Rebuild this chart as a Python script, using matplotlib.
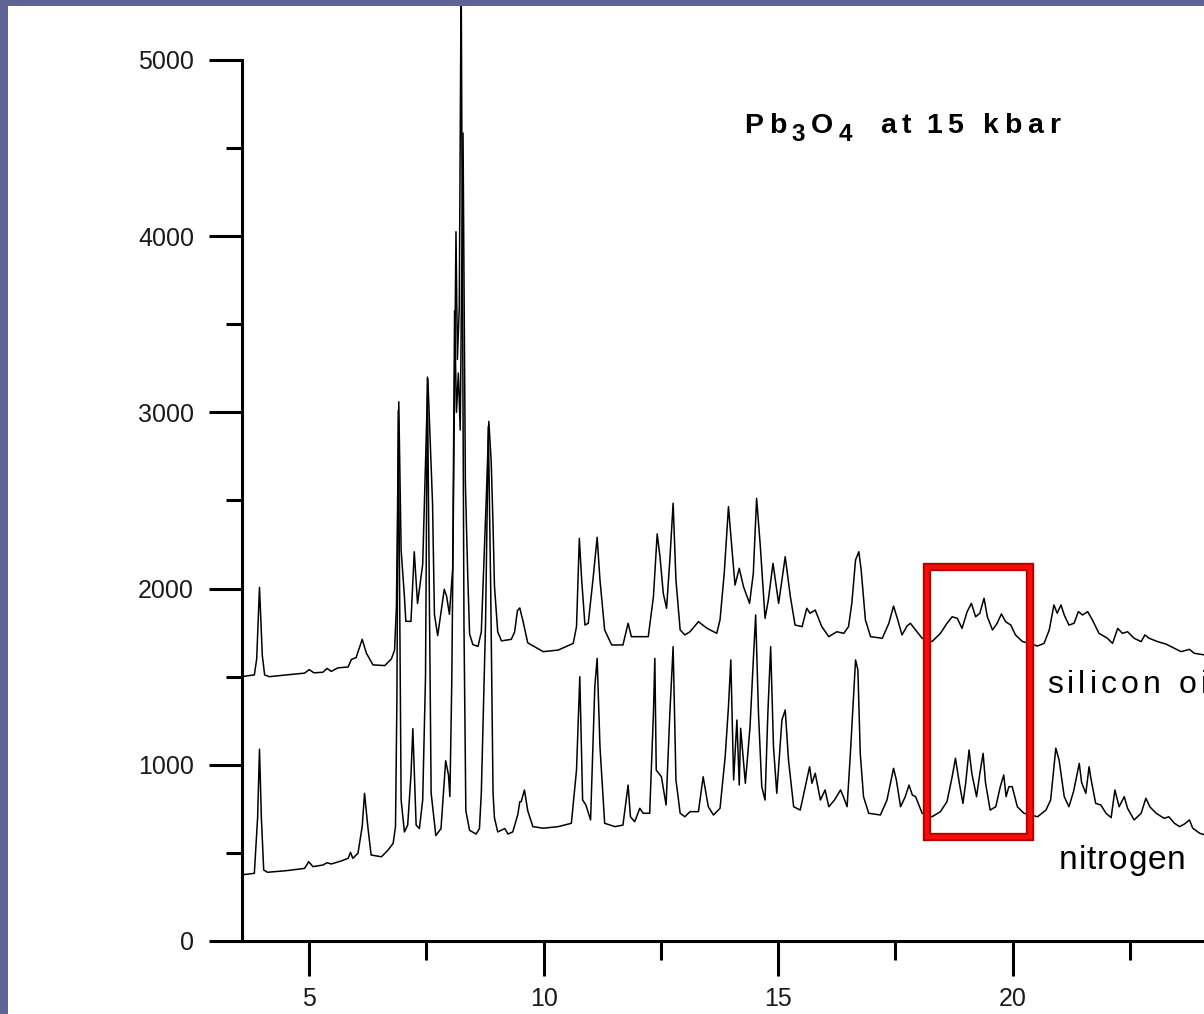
import matplotlib
matplotlib.use("Agg")
import matplotlib.pyplot as plt
from matplotlib.patches import Rectangle
from matplotlib.ticker import MultipleLocator

# diffraction patterns (2-theta, counts)
silicon_2theta = [3.55, 3.83, 3.88, 3.94, 4.00, 4.05, 4.15, 4.51, 4.90, 5.00, 5.10, 5.29, 5.38, 5.47,
                  5.61, 5.83, 5.90, 6.00, 6.13, 6.22, 6.36, 6.61, 6.75, 6.82, 6.86, 6.91, 6.96, 7.03,
                  7.06, 7.17, 7.24, 7.31, 7.42, 7.53, 7.63, 7.67, 7.74, 7.88, 7.93, 7.99, 8.06, 8.10,
                  8.14, 8.18, 8.22, 8.28, 8.33, 8.38, 8.42, 8.49, 8.60, 8.67, 8.78, 8.83, 8.88, 8.92,
                  8.95, 9.02, 9.10, 9.31, 9.38, 9.44, 9.49, 9.56, 9.66, 9.74, 9.99, 10.31, 10.63, 10.70,
                  10.76, 10.81, 10.88, 10.95, 11.05, 11.14, 11.20, 11.30, 11.45, 11.69, 11.80, 11.87,
                  12.23, 12.34, 12.42, 12.48, 12.55, 12.62, 12.69, 12.76, 12.82, 12.91, 13.01, 13.12,
                  13.30, 13.48, 13.69, 13.76, 13.85, 13.94, 14.01, 14.08, 14.17, 14.26, 14.39, 14.47,
                  14.54, 14.62, 14.72, 14.79, 14.89, 15.01, 15.15, 15.26, 15.36, 15.51, 15.61, 15.68,
                  15.79, 15.93, 16.08, 16.25, 16.40, 16.50, 16.57, 16.65, 16.72, 16.77, 16.86, 16.97,
                  17.22, 17.36, 17.46, 17.55, 17.64, 17.75, 17.82, 17.93, 18.07, 18.28, 18.46, 18.60,
                  18.71, 18.82, 18.92, 19.03, 19.12, 19.21, 19.30, 19.39, 19.46, 19.57, 19.67, 19.76,
                  19.85, 19.96, 20.06, 20.21, 20.35, 20.53, 20.67, 20.78, 20.88, 20.95, 21.03, 21.10,
                  21.20, 21.31, 21.40, 21.49, 21.60, 21.70, 21.84, 22.02, 22.13, 22.24, 22.34, 22.45,
                  22.59, 22.74, 22.82, 22.91, 23.09, 23.27, 23.45, 23.59, 23.77, 23.87, 24.10]
silicon_counts = [1500, 1510, 1600, 2007, 1620, 1510, 1500, 1510, 1520, 1540, 1522, 1525, 1547, 1530,
                  1550, 1555, 1598, 1608, 1712, 1633, 1567, 1563, 1600, 1650, 1900, 3060, 2219, 1956,
                  1814, 1814, 2209, 1915, 2138, 3192, 2482, 1854, 1733, 1996, 1956, 1854, 2117, 3577,
                  3000, 3223, 2900, 4585, 2600, 2077, 1742, 1682, 1672, 1754, 2543, 2949, 2726, 2361,
                  2016, 1754, 1703, 1712, 1754, 1875, 1890, 1814, 1692, 1680, 1642, 1651, 1689, 1784,
                  2285, 2049, 1793, 1803, 2049, 2291, 2049, 1765, 1680, 1680, 1803, 1727,
                  1727, 1954, 2310, 2181, 1973, 1888, 2162, 2484, 2049, 1765, 1737, 1755,
                  1812, 1775, 1746, 1822, 2087, 2465, 2238, 2020, 2115, 2011, 1916, 2087,
                  2512, 2238, 1831, 1935, 2143, 1916, 2181, 1954, 1793, 1784, 1888, 1860,
                  1878, 1784, 1727, 1755, 1746, 1784, 1916, 2162, 2209, 2105, 1822, 1727,
                  1718, 1803, 1901, 1822, 1737, 1788, 1803, 1765, 1718, 1699, 1746, 1803,
                  1840, 1831, 1774, 1869, 1916, 1840, 1860, 1945, 1840, 1765, 1803, 1856,
                  1812, 1793, 1737, 1699, 1689, 1674, 1689, 1765, 1907, 1860, 1907, 1850,
                  1793, 1803, 1869, 1850, 1869, 1822, 1746, 1718, 1689, 1774, 1746, 1755,
                  1718, 1699, 1737, 1718, 1699, 1685, 1661, 1642, 1655, 1633, 1623]

nitrogen_2theta = [3.55, 3.83, 3.90, 3.94, 3.98, 4.03, 4.11, 4.51, 4.90, 4.99, 5.08, 5.29, 5.38, 5.47,
                   5.68, 5.83, 5.88, 5.93, 6.04, 6.13, 6.18, 6.25, 6.32, 6.54, 6.68, 6.79, 6.84, 6.87,
                   6.90, 6.96, 7.03, 7.10, 7.17, 7.21, 7.28, 7.35, 7.42, 7.48, 7.52, 7.56, 7.60, 7.70,
                   7.81, 7.91, 7.97, 8.00, 8.04, 8.13, 8.16, 8.20, 8.24, 8.30, 8.34, 8.42, 8.56, 8.63,
                   8.67, 8.76, 8.82, 8.87, 8.92, 8.95, 9.02, 9.17, 9.24, 9.34, 9.45, 9.49, 9.52, 9.59,
                   9.66, 9.77, 9.99, 10.31, 10.59, 10.70, 10.77, 10.83, 10.90, 11.00, 11.09, 11.14,
                   11.20, 11.30, 11.52, 11.69, 11.80, 11.85, 11.94, 12.05, 12.12, 12.26, 12.34, 12.37,
                   12.40, 12.51, 12.61, 12.69, 12.76, 12.82, 12.91, 13.01, 13.12, 13.30, 13.40, 13.51,
                   13.62, 13.76, 13.87, 13.94, 13.99, 14.05, 14.12, 14.17, 14.20, 14.30, 14.40, 14.47,
                   14.52, 14.58, 14.65, 14.72, 14.78, 14.84, 14.90, 14.97, 15.08, 15.15, 15.22, 15.33,
                   15.47, 15.61, 15.67, 15.72, 15.79, 15.90, 16.00, 16.08, 16.20, 16.33, 16.39, 16.47,
                   16.54, 16.65, 16.70, 16.75, 16.82, 16.93, 17.18, 17.32, 17.46, 17.52, 17.61, 17.71,
                   17.79, 17.86, 17.93, 18.07, 18.28, 18.46, 18.60, 18.71, 18.78, 18.86, 18.94, 19.00,
                   19.07, 19.13, 19.23, 19.30, 19.37, 19.42, 19.52, 19.64, 19.74, 19.81, 19.86, 19.92,
                   19.99, 20.10, 20.24, 20.53, 20.71, 20.81, 20.92, 20.99, 21.10, 21.20, 21.30, 21.42,
                   21.47, 21.56, 21.63, 21.67, 21.77, 21.88, 21.99, 22.10, 22.18, 22.27, 22.38, 22.45,
                   22.59, 22.74, 22.84, 22.93, 23.06, 23.23, 23.33, 23.45, 23.56, 23.67, 23.77, 23.84,
                   23.99, 24.10]
nitrogen_counts = [375, 384, 700, 1088, 700, 403, 390, 399, 412, 450, 422, 431, 444, 437,
                   454, 469, 503, 469, 498, 650, 838, 649, 488, 478, 516, 554, 649, 1368,
                   3010, 800, 619, 658, 942, 1205, 658, 638, 800, 1500, 3200, 2000, 840, 598,
                   638, 1023, 942, 820, 1470, 4025, 3300, 3600, 5500, 1800, 739, 628, 607, 638,
                   840, 1800, 2920, 2000, 840, 699, 619, 638, 607, 619, 719, 790, 791, 857,
                   739, 649, 640, 649, 668, 970, 1500, 800, 772, 687, 1443, 1604,
                   1103, 668, 649, 658, 885, 705, 677, 753, 725, 725, 1292, 1604,
                   970, 932, 772, 1292, 1670, 914, 725, 705, 734, 734, 932, 762,
                   715, 753, 1046, 1330, 1595, 914, 1254, 885, 1207, 895, 1216, 1595,
                   1850, 1292, 876, 800, 1292, 1670, 1103, 838, 1254, 1311, 1027, 762,
                   743, 914, 989, 895, 952, 800, 857, 762, 800, 857, 819, 762,
                   1065, 1595, 1538, 1065, 819, 725, 715, 800, 980, 914, 762, 819,
                   885, 829, 819, 725, 705, 734, 791, 932, 1037, 900, 781, 900,
                   1084, 950, 819, 950, 1065, 900, 743, 762, 880, 942, 819, 876,
                   876, 762, 725, 705, 743, 800, 1094, 1027, 819, 762, 850, 1008,
                   900, 838, 989, 920, 781, 772, 725, 700, 857, 762, 819, 753,
                   687, 725, 810, 760, 725, 696, 705, 668, 649, 665, 687, 640,
                   611, 602]

x_major = [5, 10, 15, 20]
y_major = [0, 1000, 2000, 3000, 4000, 5000]
title_text = "Pb3O4 at 15 kbar"
label_silicon = "silicon oil"
label_nitrogen = "nitrogen"
box_2theta = (18.17, 20.36)
box_counts = (590, 2122)

FONT = "Liberation Sans"


def tracked_text(ax, x, y, text, size, track, weight="normal", subs=(), word_gaps=(), sub_drop=5.0):
    # matplotlib has no letter spacing, so chain one text per character
    prev = None
    prev_dy = 0.0
    pending = 0.0
    gaps = list(word_gaps)
    for i, ch in enumerate(text):
        if ch == " ":
            pending += gaps.pop(0) if gaps else size * 0.3
            continue
        is_sub = i in subs
        dy = -sub_drop if is_sub else 0.0
        kw = dict(fontsize=size * (0.85 if is_sub else 1.0), fontweight=weight,
                  family=FONT, color="black", ha="left", va="bottom")
        if prev is None:
            prev = ax.text(x, y, ch, **kw)
        else:
            prev = ax.annotate(ch, xy=(1, 0), xycoords=prev,
                               xytext=(track + pending, dy - prev_dy),
                               textcoords="offset points", **kw)
        prev_dy = dy
        pending = 0.0


W, H = 1204, 1014
fig = plt.figure(figsize=(W / 100, H / 100), dpi=100, facecolor="#5f6396")
fig.add_artist(Rectangle((8 / W, 0), 1, 1 - 6 / H, transform=fig.transFigure,
                         facecolor="white", edgecolor="none", zorder=0))

ax = fig.add_axes([242 / W, 73 / H, 962 / W, 935 / H])
ax.set_facecolor("none")

ax.plot(silicon_2theta, silicon_counts, color="black", lw=1.1)
ax.plot(nitrogen_2theta, nitrogen_counts, color="black", lw=1.1)

ax.add_patch(Rectangle((box_2theta[0], box_counts[0]), box_2theta[1] - box_2theta[0],
                       box_counts[1] - box_counts[0], fill=False, edgecolor="#b00000",
                       lw=6.0, joinstyle="miter", zorder=4))
ax.add_patch(Rectangle((box_2theta[0], box_counts[0]), box_2theta[1] - box_2theta[0],
                       box_counts[1] - box_counts[0], fill=False, edgecolor="#ff0a0a",
                       lw=3.2, joinstyle="miter", zorder=5))

ax.set_xlim(3.567, 24.08)
ax.set_ylim(0, 5306)

for s in ["top", "right"]:
    ax.spines[s].set_visible(False)
for s in ["left", "bottom"]:
    ax.spines[s].set_linewidth(2.2)
ax.spines["left"].set_bounds(0, 5000)

ax.set_xticks(x_major)
ax.set_yticks(y_major)
ax.xaxis.set_minor_locator(MultipleLocator(2.5))
ax.yaxis.set_minor_locator(MultipleLocator(500))
ax.tick_params(axis="x", which="major", length=25, width=2.2, pad=8, labelsize=18, labelcolor="#1a1a1a")
ax.tick_params(axis="x", which="minor", length=13.5, width=2.2)
ax.tick_params(axis="y", which="major", length=23.5, width=2.2, pad=11, labelsize=18, labelcolor="#1a1a1a")
ax.tick_params(axis="y", which="minor", length=11.5, width=2.2)
for lab in ax.get_xticklabels() + ax.get_yticklabels():
    lab.set_family(FONT)

tracked_text(ax, 14.28, 4551, title_text, 20.5, 4.0, weight="bold", subs=(2, 4), word_gaps=(16, 7, 10))
tracked_text(ax, 20.73, 1368, label_silicon, 23, 3.0, word_gaps=(10,))
tracked_text(ax, 20.99, 369, label_nitrogen, 24, 0.6)

fig.savefig("out.png", dpi=100, facecolor=fig.get_facecolor())
